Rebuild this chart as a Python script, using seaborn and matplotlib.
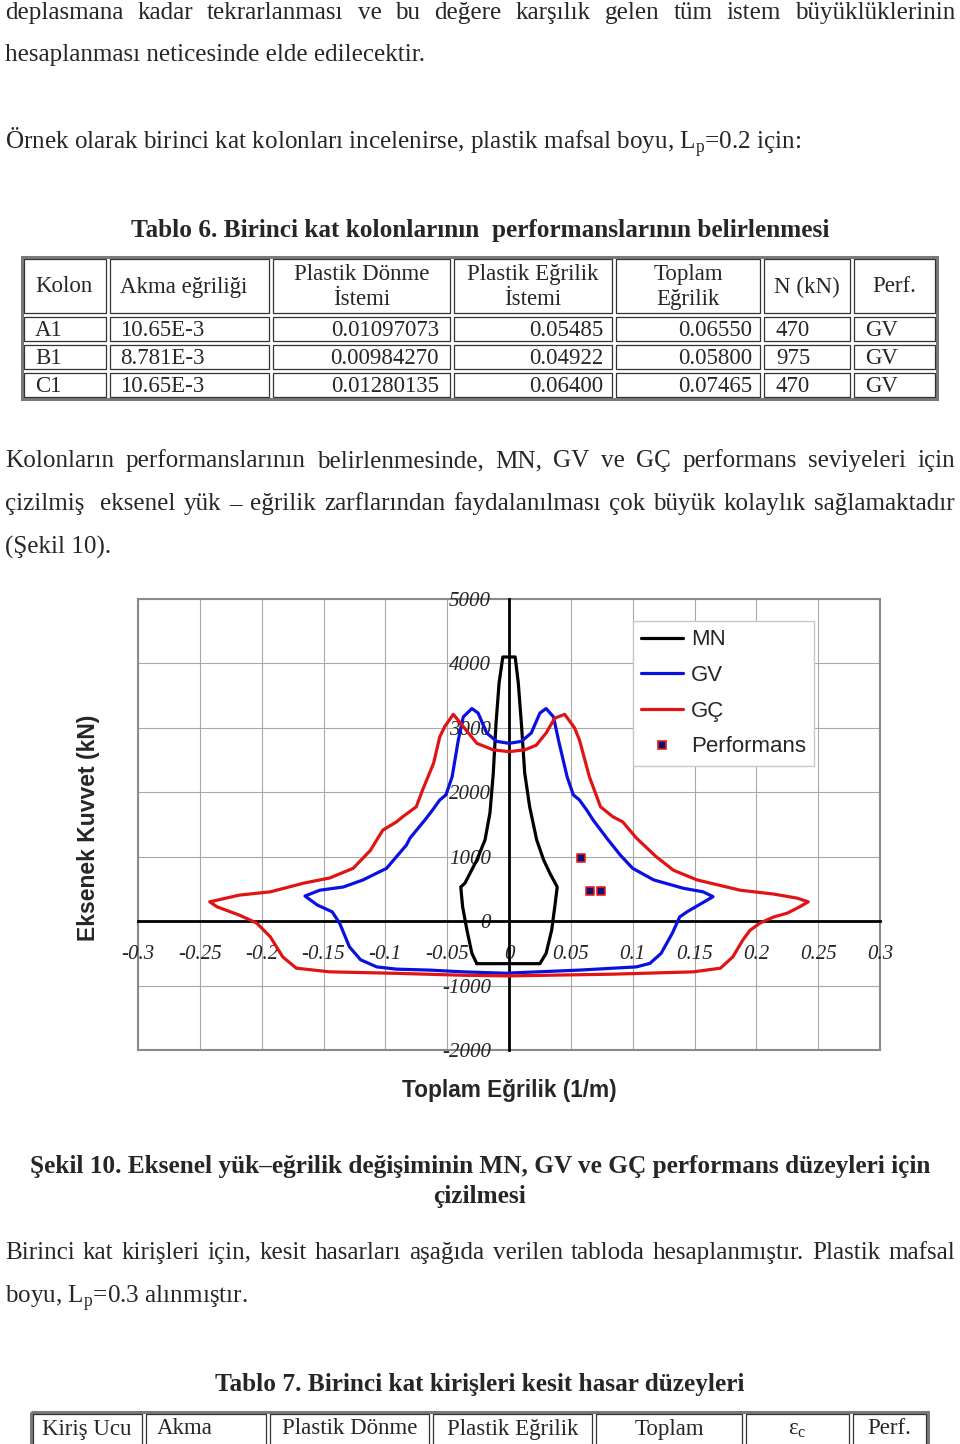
import matplotlib
matplotlib.use("Agg")
import matplotlib.pyplot as plt
from matplotlib.lines import Line2D
from matplotlib.patches import Rectangle
from matplotlib.ticker import MultipleLocator, FixedLocator, FixedFormatter
import seaborn as sns

# ---- page text
BODY = 18.1
TAB = 16.5
SERIF = ["Liberation Serif", "DejaVu Serif"]
SANS = ["Liberation Sans", "DejaVu Sans"]

# ---- table 6 values
t6_header = ["Kolon", "Akma eğriliği", "Plastik Dönme\nİstemi", "Plastik Eğrilik\nİstemi",
             "Toplam\nEğrilik", "N (kN)", "Perf."]
kolon = ["A1", "B1", "C1"]
akma = ["10.65E-3", "8.781E-3", "10.65E-3"]
donme = ["0.01097073", "0.00984270", "0.01280135"]
plastik_egr = ["0.05485", "0.04922", "0.06400"]
toplam = [0.06550, 0.05800, 0.07465]
n_kn = [470, 975, 470]
perf = ["GV", "GV", "GV"]

# ---- table 7 header
t7_header = ["Kiriş Ucu", "Akma", "Plastik Dönme", "Plastik Eğrilik", "Toplam",
             "ε$_\\mathrm{c}$", "Perf."]

# ---- interaction envelopes (curvature 1/m, axial force kN)
mn_x = [-0.026, -0.030, -0.034, -0.0375, -0.039, -0.0356, -0.026, -0.0194, -0.0154,
        -0.0127, -0.0105, -0.008, -0.005, 0.005, 0.0075, 0.010, 0.0127, 0.0167,
        0.0224, 0.028, 0.033, 0.039, 0.037, 0.0345, 0.030, 0.025, -0.026]
mn_y = [-660, -500, -140, 222, 530, 590, 950, 1260, 1680,
        2300, 3070, 3700, 4100, 4100, 3700, 3070, 2300, 1775,
        1260, 950, 745, 530, 222, -140, -500, -660, -660]

gv_x = [0.000, -0.037, -0.064, -0.091, -0.107, -0.120, -0.129, -0.137, -0.143, -0.155,
        -0.165, -0.153, -0.134, -0.118, -0.099, -0.083, -0.080, -0.068, -0.062, -0.056,
        -0.051, -0.046, -0.041, -0.037, -0.030, -0.025, -0.018, -0.010, 0.000, 0.010,
        0.018, 0.025, 0.030, 0.036, 0.040, 0.047, 0.052, 0.057, 0.063, 0.068, 0.079,
        0.090, 0.100, 0.117, 0.141, 0.157, 0.165, 0.144, 0.138, 0.132, 0.123, 0.114,
        0.103, 0.057, 0.003, 0.000]
gv_y = [-810, -787, -760, -745, -710, -600, -400, -30, 145, 250,
        390, 480, 530, 640, 820, 1180, 1290, 1570, 1720, 1880,
        1960, 2240, 2810, 3170, 3300, 3230, 2920, 2790, 2760, 2790,
        2920, 3230, 3300, 3170, 2810, 2240, 1960, 1880, 1720, 1570, 1290,
        1025, 820, 640, 510, 455, 380, 145, 65, -190, -500, -655,
        -710, -760, -803, -810]

gc_x = [0.000, -0.037, -0.091, -0.145, -0.172, -0.183, -0.193, -0.204, -0.218, -0.236,
        -0.242, -0.218, -0.193, -0.166, -0.145, -0.126, -0.112, -0.106, -0.102, -0.091,
        -0.086, -0.075, -0.070, -0.061, -0.056, -0.052, -0.045, -0.037, -0.026, -0.013,
        0.000, 0.013, 0.022, 0.030, 0.037, 0.045, 0.053, 0.057, 0.065, 0.074, 0.084,
        0.092, 0.103, 0.119, 0.133, 0.152, 0.187, 0.214, 0.233, 0.242, 0.235, 0.225,
        0.214, 0.203, 0.195, 0.189, 0.181, 0.171, 0.149, 0.084, 0.000]
gc_y = [-850, -840, -810, -787, -730, -554, -244, -30, 93, 222,
        300, 404, 455, 590, 670, 820, 1100, 1290, 1413, 1540,
        1620, 1775, 2030, 2450, 2860, 3020, 3210, 3020, 2760, 2660,
        2630, 2660, 2730, 2920, 3150, 3210, 3000, 2810, 2240, 1775, 1620,
        1540, 1290, 1000, 790, 640, 480, 420, 357, 300, 222, 124,
        65, -30, -140, -295, -554, -730, -787, -823, -850]

x_ticks = [-0.3, -0.25, -0.2, -0.15, -0.1, -0.05, 0, 0.05, 0.1, 0.15, 0.2, 0.25, 0.3]
x_tick_labels = ["-0.3", "-0.25", "-0.2", "-0.15", "-0.1", "-0.05", "0", "0.05", "0.1",
                 "0.15", "0.2", "0.25", "0.3"]
y_ticks = [-2000, -1000, 0, 1000, 2000, 3000, 4000, 5000]
y_tick_labels = ["-2000", "-1000", "0", "1000", "2000", "3000", "4000", "5000"]

sns.set_style("white")
plt.rcParams["font.family"] = SERIF
plt.rcParams["mathtext.fontset"] = "custom"
plt.rcParams["mathtext.rm"] = "Liberation Serif"

W, H = 960, 1444
fig = plt.figure(figsize=(W / 100, H / 100), dpi=100)
fig.patch.set_facecolor("white")

page = fig.add_axes([0, 0, 1, 1])
page.set_xlim(0, W)
page.set_ylim(H, 0)
page.axis("off")
renderer = fig.canvas.get_renderer()


def put(x, y, s, ha="left", size=BODY, weight="normal", **kw):
    return page.text(x, y, s, ha=ha, va="center", fontsize=size, fontweight=weight, **kw)


def justify(line, y, x0=5, x1=955):
    words = line.split(" ")
    texts = [put(0, y, w) for w in words]
    widths = [t.get_window_extent(renderer).width if w else 0 for t, w in zip(texts, words)]
    gap = (x1 - x0 - sum(widths)) / (len(words) - 1)
    x = x0
    for t, w in zip(texts, widths):
        t.set_x(x)
        x += w + gap


def grid_table(cols, rows):
    page.add_patch(Rectangle((cols[0], rows[0]), cols[-1] - cols[0], rows[-1] - rows[0],
                             fill=False, ec="#7a7a7a", lw=2.2, clip_on=False))
    for i in range(len(cols) - 1):
        for j in range(len(rows) - 1):
            page.add_patch(Rectangle((cols[i] + 2, rows[j] + 2), cols[i + 1] - cols[i] - 4,
                                     rows[j + 1] - rows[j] - 4, fill=False, ec="#333333",
                                     lw=0.9, clip_on=False))


justify("deplasmana kadar tekrarlanması ve bu değere karşılık gelen tüm istem büyüklüklerinin", 13)
put(5, 55, "hesaplanması neticesinde elde edilecektir.")
put(5, 142, "Örnek olarak birinci kat kolonları incelenirse, plastik mafsal boyu, L$_\\mathrm{p}$=0.2 için:")
put(480, 230, "Tablo 6. Birinci kat kolonlarının  performanslarının belirlenmesi", ha="center",
    size=18.2, weight="bold")

# table 6
t6_cols = [22, 108, 271, 452, 614, 762, 852, 937]
t6_rows = [257, 315, 343, 371, 399]
grid_table(t6_cols, t6_rows)
hy = (t6_rows[0] + t6_rows[1]) / 2 + 1
put(64, hy, t6_header[0], ha="center", size=TAB)
put(120, hy, t6_header[1], size=TAB)
for k in range(2, 7):
    put((t6_cols[k] + t6_cols[k + 1]) / 2, hy, t6_header[k], ha="center", size=TAB,
        linespacing=1.22)
for r in range(3):
    yy = (t6_rows[r + 1] + t6_rows[r + 2]) / 2 + 1
    put(35, yy, kolon[r], size=TAB)
    put(120, yy, akma[r], size=TAB)
    put(439, yy, donme[r], ha="right", size=TAB)
    put(603, yy, plastik_egr[r], ha="right", size=TAB)
    put(752, yy, f"{toplam[r]:.5f}", ha="right", size=TAB)
    put(776, yy, str(n_kn[r]), size=TAB)
    put(865, yy, perf[r], size=TAB)

justify("Kolonların performanslarının belirlenmesinde, MN, GV ve GÇ performans seviyeleri için", 461)
justify("çizilmiş  eksenel yük – eğrilik zarflarından faydalanılması çok büyük kolaylık sağlamaktadır", 504)
put(5, 547, "(Şekil 10).")

put(480, 1166, "Şekil 10. Eksenel yük–eğrilik değişiminin MN, GV ve GÇ performans düzeyleri için",
    ha="center", size=18.2, weight="bold")
put(480, 1196, "çizilmesi", ha="center", size=18.2, weight="bold")
justify("Birinci kat kirişleri için, kesit hasarları aşağıda verilen tabloda hesaplanmıştır. Plastik mafsal", 1253)
put(5, 1298, "boyu, L$_\\mathrm{p}$=0.3 alınmıştır.")
put(480, 1385, "Tablo 7. Birinci kat kirişleri kesit hasar düzeyleri", ha="center", size=18.2,
    weight="bold")

t7_cols = [31, 144, 268, 431, 594, 744, 851, 928]
t7_rows = [1412, 1450]
grid_table(t7_cols, t7_rows)
put(42, 1429, t7_header[0], size=TAB)
put(157, 1429, t7_header[1], size=TAB)
for k in range(2, 7):
    put((t7_cols[k] + t7_cols[k + 1]) / 2, 1429, t7_header[k], ha="center", size=TAB)

# ---- chart
L, R, T, B = 138, 880, 599, 1050
rect = [L / W, 1 - B / H, (R - L) / W, (B - T) / H]

bg = fig.add_axes(rect)
bg.set_xlim(-0.3, 0.3)
bg.set_ylim(-2000, 5000)
bg.xaxis.set_major_locator(MultipleLocator(0.05))
bg.yaxis.set_major_locator(MultipleLocator(1000))
bg.grid(True, color="#a8a8a8", lw=0.8)
bg.tick_params(length=0, labelbottom=False, labelleft=False)
for s in bg.spines.values():
    s.set_color("#8a8a8a")
    s.set_linewidth(1.5)

ax = fig.add_axes(rect, facecolor="none")
ax.set_xlim(-0.3, 0.3)
ax.set_ylim(-2000, 5000)
for side in ["top", "right"]:
    ax.spines[side].set_visible(False)
for side in ["left", "bottom"]:
    ax.spines[side].set_position(("data", 0))
    ax.spines[side].set_color("black")
    ax.spines[side].set_linewidth(2)

blue, red = "#0a10e0", "#e01414"
sns.lineplot(x=mn_x, y=mn_y, sort=False, estimator=None, color="black", lw=2.3, ax=ax, zorder=3)
sns.lineplot(x=gv_x, y=gv_y, sort=False, estimator=None, color=blue, lw=2.3, ax=ax, zorder=3)
sns.lineplot(x=gc_x, y=gc_y, sort=False, estimator=None, color=red, lw=2.3, ax=ax, zorder=3)
sns.scatterplot(x=toplam, y=n_kn, marker="s", s=40, color="#101070", edgecolor="#e02020",
                linewidth=1.2, ax=ax, zorder=4)

ax.xaxis.set_major_locator(FixedLocator(x_ticks))
ax.xaxis.set_major_formatter(FixedFormatter(x_tick_labels))
ax.xaxis.set_minor_locator(MultipleLocator(0.01))
ax.yaxis.set_major_locator(FixedLocator(y_ticks))
ax.yaxis.set_major_formatter(FixedFormatter(y_tick_labels))
ax.yaxis.set_minor_locator(MultipleLocator(200))
ax.tick_params(which="both", direction="inout", color="black", width=1.5)
ax.tick_params(which="major", length=10)
ax.tick_params(which="minor", length=7)
ax.tick_params(axis="x", which="major", pad=12)
ax.tick_params(axis="y", which="major", pad=8)
for lab in ax.get_xticklabels() + ax.get_yticklabels():
    lab.set_fontstyle("italic")
    lab.set_fontsize(15)
    lab.set_family(SERIF)

ax.set_xlabel("Toplam Eğrilik (1/m)", family=SANS, fontsize=16.3, fontweight="bold")
ax.set_ylabel("Eksenek Kuvvet (kN)", family=SANS, fontsize=16.5, fontweight="bold")
ax.xaxis.set_label_coords((509 - L) / (R - L), (B - 1090) / (B - T))
ax.xaxis.label.set_va("center")
ax.yaxis.set_label_coords((88 - L) / (R - L), (B - 828) / (B - T))
ax.yaxis.label.set_va("center")

handles = [
    Line2D([], [], color="black", lw=2.3, label="MN"),
    Line2D([], [], color=blue, lw=2.3, label="GV"),
    Line2D([], [], color=red, lw=2.3, label="GÇ"),
    Line2D([], [], ls="none", marker="s", ms=6, mfc="#101070", mec="#e02020", mew=1.2,
           label="Performans"),
]
leg = ax.legend(handles=handles, loc="upper left", bbox_to_anchor=(633 / W, 1 - 621 / H),
                bbox_transform=fig.transFigure, borderaxespad=0, frameon=True, fancybox=False,
                edgecolor="#c8c8c8", framealpha=1, prop={"family": SANS, "size": 16},
                handlelength=1.85, handletextpad=0.38, labelspacing=0.66, borderpad=0.38)
leg.get_frame().set_linewidth(1)

fig.savefig("out.png", dpi=100, facecolor="white")
